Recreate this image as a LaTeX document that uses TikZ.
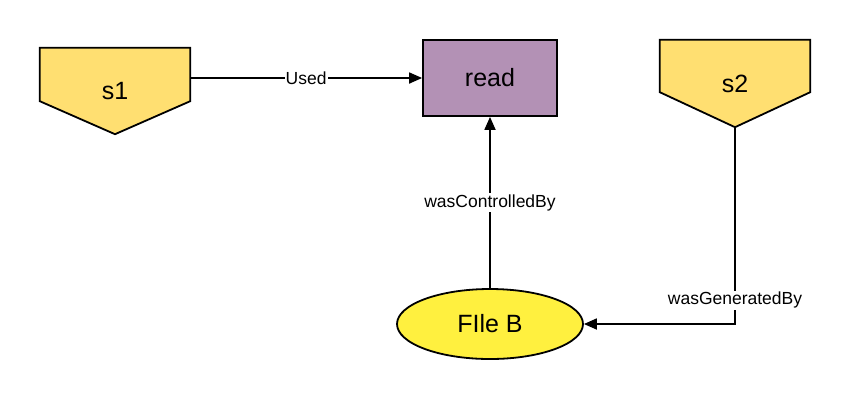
\documentclass[tikz,border=0pt]{standalone}
\usepackage{fontspec}
\setmainfont{Liberation Sans}
\usetikzlibrary{shapes.geometric,arrows.meta,calc}
\definecolor{pentyellow}{HTML}{FFDF71}
\definecolor{readpurple}{HTML}{B391B5}
\definecolor{fileyellow}{HTML}{FFF03F}
\tikzset{
  big/.style={font=\fontsize{25}{28}\selectfont},
  lbl/.style={font=\fontsize{17.5}{20}\selectfont, fill=white, inner sep=1pt},
  conn/.style={line width=1.8pt, -{Triangle[length=13pt,width=11pt]}},
  plain/.style={line width=1.8pt},
  pentbox/.style={minimum width=150pt, inner sep=0pt, big},
}
\begin{document}
\begin{tikzpicture}[x=1pt,y=-1pt]
\useasboundingbox (0,0) rectangle (850,400);
% s1
\node[pentbox, minimum height=86pt] (s1) at (115,91) {};
\draw[plain, fill=pentyellow, line join=miter]
  (s1.north west) -- (s1.north east) -- ([yshift=33pt]s1.south east)
  -- (s1.south) -- ([yshift=33pt]s1.south west) -- cycle;
\node[big] at (s1.center) {s1};
% s2
\node[pentbox, minimum height=87pt] (s2) at (735,83.5) {};
\draw[plain, fill=pentyellow, line join=miter]
  (s2.north west) -- (s2.north east) -- ([yshift=35pt]s2.south east)
  -- (s2.south) -- ([yshift=35pt]s2.south west) -- cycle;
\node[big] at (s2.center) {s2};
% read
\node[draw, line width=1.8pt, fill=readpurple, minimum width=134pt, minimum height=76pt, big] (read) at (490,78) {read};
% File B
\node[draw, ellipse, line width=1.8pt, fill=fileyellow, minimum width=186pt, minimum height=70pt, inner sep=0pt, big] (fileb) at (490,324) {FIle B};
% connectors
\draw[conn] (s1.east |- read.west) -- node[lbl] {Used} (read.west);
\draw[conn] (fileb.north) -- node[lbl] {wasControlledBy} (read.south);
\draw[conn] (s2.south) |- node[lbl, pos=0.44] {wasGeneratedBy} (fileb.east);
\end{tikzpicture}
\end{document}
